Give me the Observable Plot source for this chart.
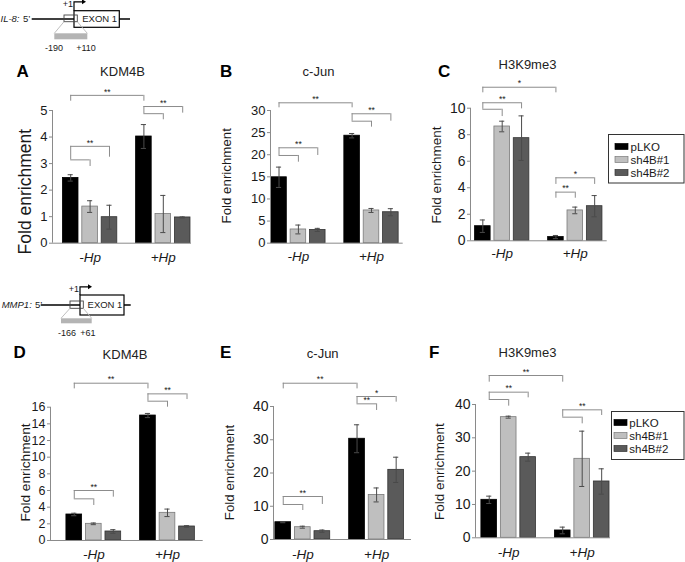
<!DOCTYPE html>
<html><head><meta charset="utf-8">
<script src="https://cdn.jsdelivr.net/npm/d3@7"></script>
<script src="https://cdn.jsdelivr.net/npm/@observablehq/plot@0.6"></script>
<style>
body{margin:0;background:#fff;}
#fig{position:relative;width:685px;height:562px;overflow:hidden;background:#fff;}
</style></head><body><div id="fig"></div><script>
// ---------- data ----------
const groups = ["-Hp", "+Hp"];
const series = ["pLKO", "sh4B#1", "sh4B#2"];
const titles = {A: "KDM4B", B: "c-Jun", C: "H3K9me3", D: "KDM4B", E: "c-Jun", F: "H3K9me3"};
const yLabel = "Fold enrichment";
const yTickMax = {A: 5, B: 30, C: 10, D: 16, E: 40, F: 40};
const yTickStep = {A: 1, B: 5, C: 2, D: 2, E: 10, F: 10};

// order: -Hp (pLKO, sh4B#1, sh4B#2), +Hp (pLKO, sh4B#1, sh4B#2)
const valuesA = [2.46, 1.38, 0.98, 4.02, 1.10, 0.97];
const errorsA = [0.12, 0.22, 0.45, 0.45, 0.70, 0.02];
const valuesB = [14.9, 3.1, 3.0, 24.3, 7.4, 7.0];
const errorsB = [2.3, 1.0, 0.35, 0.5, 0.45, 0.8];
const valuesC = [1.1, 8.62, 7.74, 0.28, 2.29, 2.61];
const errorsC = [0.47, 0.4, 1.68, 0.12, 0.25, 0.8];
const valuesD = [3.12, 2.0, 1.08, 15.0, 3.32, 1.68];
const errorsD = [0.15, 0.1, 0.22, 0.25, 0.45, 0.1];
const valuesE = [5.2, 3.7, 2.5, 30.3, 13.4, 20.95];
const errorsE = [0.15, 0.3, 0.35, 4.2, 2.1, 3.8];
const valuesF = [11.4, 36.2, 24.2, 2.2, 23.7, 16.9];
const errorsF = [1.1, 0.3, 1.2, 1.0, 8.3, 3.8];

// significance brackets: [group1, series1, group2, series2, level, leftTickEnd, rightTickEnd, label]
const bracketsA = [
  ["-Hp","pLKO","+Hp","pLKO",5.57,5.35,5.35,"**"],
  ["+Hp","pLKO","+Hp","sh4B#2",5.15,4.88,4.90,"**"],
  ["+Hp","pLKO","+Hp","sh4B#1",4.88,4.88,4.65,""],
  ["-Hp","pLKO","-Hp","sh4B#2",3.65,3.14,3.24,"**"],
  ["-Hp","pLKO","-Hp","sh4B#1",3.14,3.14,2.89,""]
];
const bracketsB = [
  ["-Hp","pLKO","+Hp","pLKO",31.74,30.61,30.61,"**"],
  ["+Hp","pLKO","+Hp","sh4B#2",29.26,27.58,27.58,"**"],
  ["+Hp","pLKO","+Hp","sh4B#1",27.58,27.58,26.23,""],
  ["-Hp","pLKO","-Hp","sh4B#2",21.57,19.83,19.83,"**"],
  ["-Hp","pLKO","-Hp","sh4B#1",19.83,19.83,18.31,""]
];
const bracketsC = [
  ["-Hp","pLKO","+Hp","pLKO",11.58,11.16,11.16,"*"],
  ["-Hp","pLKO","-Hp","sh4B#2",10.41,9.92,9.95,"**"],
  ["-Hp","pLKO","-Hp","sh4B#1",9.92,9.92,9.37,""],
  ["+Hp","pLKO","+Hp","sh4B#2",4.75,4.25,4.25,"*"],
  ["+Hp","pLKO","+Hp","sh4B#1",3.67,3.21,3.21,"**"]
];
const bracketsD = [
  ["-Hp","pLKO","+Hp","pLKO",18.88,18.2,18.2,"**"],
  ["+Hp","pLKO","+Hp","sh4B#2",17.6,16.72,16.92,"**"],
  ["+Hp","pLKO","+Hp","sh4B#1",16.72,16.72,16.0,""],
  ["-Hp","pLKO","-Hp","sh4B#2",6.0,5.0,5.2,"**"],
  ["-Hp","pLKO","-Hp","sh4B#1",5.0,5.0,4.2,""]
];
const bracketsE = [
  ["-Hp","pLKO","+Hp","pLKO",47.0,45.3,45.3,"**"],
  ["+Hp","pLKO","+Hp","sh4B#2",43.0,40.8,41.3,"*"],
  ["+Hp","pLKO","+Hp","sh4B#1",40.8,40.8,38.8,"**"],
  ["-Hp","pLKO","-Hp","sh4B#2",12.93,10.53,10.53,"**"],
  ["-Hp","pLKO","-Hp","sh4B#1",10.53,10.53,8.72,""]
];
const bracketsF = [
  ["-Hp","pLKO","+Hp","pLKO",48.7,46.7,46.7,"**"],
  ["-Hp","pLKO","-Hp","sh4B#2",43.7,41.5,42.0,"**"],
  ["-Hp","pLKO","-Hp","sh4B#1",41.5,41.5,39.5,""],
  ["+Hp","pLKO","+Hp","sh4B#2",38.4,36.2,36.7,"**"],
  ["+Hp","pLKO","+Hp","sh4B#1",36.2,36.2,34.2,""]
];

// ---------- style / layout ----------
const FONT = "Arial, 'Liberation Sans', sans-serif";
const fills = ["#000000", "#bfbfbf", "#5a5a5a"];
const outlines = ["#000000", "#7a7a7a", "#333333"];
const AXIS = "#8a8a8a", BRK = "#8c8c8c", TXT = "#1a1a1a", ERR = "#4a4a4a";
const PITCH = 0.265, BW = 0.213, CAP = 0.035;

const layout = {
  A: {axisLeft: 51.7, axisRight: 190.7, c1: 89.3, c2: 162.5, y0: 242.7, yTop: 110, top: 70, bottom: 272, pad: 9.5, tickFs: 13},
  B: {axisLeft: 270, axisRight: 402.7, c1: 297.9, c2: 371, y0: 242.7, yTop: 110, top: 70, bottom: 272, pad: 8, tickFs: 13},
  C: {axisLeft: 470, axisRight: 606.7, c1: 501.7, c2: 574.8, y0: 240.3, yTop: 107.7, top: 70, bottom: 272, pad: 8, tickFs: 14},
  D: {axisLeft: 50, axisRight: 202.7, c1: 93.3, c2: 167, y0: 540, yTop: 406.7, top: 355, bottom: 562, pad: 8.5, tickFs: 12.5},
  E: {axisLeft: 272.7, axisRight: 410.7, c1: 302, c2: 375.8, y0: 539, yTop: 406, top: 355, bottom: 562, pad: 9.5, tickFs: 14},
  F: {axisLeft: 475, axisRight: 610, c1: 508.2, c2: 581.7, y0: 537.3, yTop: 404, top: 355, bottom: 562, pad: 10, tickFs: 14}
};

const fig = document.getElementById("fig");

function drawPanel(id, values, errors, brackets) {
  const L = layout[id];
  const tickMax = yTickMax[id], step = yTickStep[id];
  const xOf = (g, s) => groups.indexOf(g) + (series.indexOf(s) - 1) * PITCH;
  const rows = [];
  groups.forEach((g, gi) => series.forEach((s, si) =>
    rows.push({g, s, si, v: values[gi * 3 + si], e: errors[gi * 3 + si]})));
  const br = brackets.map(([g1, s1, g2, s2, y, yl, yr, label]) =>
    ({xa: xOf(g1, s1), xb: xOf(g2, s2), y, yl, yr, label}));
  const svgLeft = L.axisLeft - 32, svgRight = L.axisRight + 6;
  const k = (L.y0 - L.yTop) / tickMax;
  const u = L.c2 - L.c1;
  const xa = (L.axisLeft - L.c1) / u, xb = (L.axisRight - L.c1) / u;
  const cx = d => xOf(d.g, d.s);
  const chart = Plot.plot({
    width: svgRight - svgLeft,
    height: L.bottom - L.top,
    marginLeft: L.axisLeft - svgLeft,
    marginRight: svgRight - L.axisRight,
    marginTop: 0,
    marginBottom: L.bottom - L.y0,
    x: {type: "linear", domain: [xa, xb]},
    y: {type: "linear", domain: [0, (L.y0 - L.top) / k]},
    style: {background: "transparent", fontFamily: FONT, color: TXT, overflow: "visible"},
    marks: [
      Plot.rect(rows, {x1: d => cx(d) - BW / 2, x2: d => cx(d) + BW / 2, y1: 0, y2: "v",
        fill: d => fills[d.si], stroke: d => outlines[d.si], strokeWidth: 0.8}),
      Plot.ruleX(rows, {x: cx, y1: d => d.v - d.e, y2: d => d.v + d.e, stroke: ERR, strokeWidth: 1}),
      Plot.ruleY(rows, {y: d => d.v + d.e, x1: d => cx(d) - CAP, x2: d => cx(d) + CAP, stroke: ERR, strokeWidth: 1}),
      Plot.ruleY(rows, {y: d => d.v - d.e, x1: d => cx(d) - CAP, x2: d => cx(d) + CAP, stroke: ERR, strokeWidth: 1}),
      Plot.ruleY([0], {stroke: AXIS, strokeWidth: 1}),
      Plot.ruleX([xa], {y1: 0, y2: tickMax, stroke: AXIS, strokeWidth: 1}),
      Plot.axisY({ticks: d3.range(0, tickMax + 1e-9, step), tickFormat: d => String(d), tickSize: 3, tickPadding: 2,
        fontSize: L.tickFs, stroke: AXIS, fill: TXT, label: null}),
      Plot.axisX({ticks: [0, 1], tickFormat: i => groups[Math.round(i)], tickSize: 0, tickPadding: L.pad,
        fontSize: 13.5, fontStyle: "italic", fill: TXT, label: null}),
      Plot.ruleY(br, {y: "y", x1: "xa", x2: "xb", stroke: BRK, strokeWidth: 1}),
      Plot.ruleX(br.filter(d => d.yl < d.y), {x: "xa", y1: "yl", y2: "y", stroke: BRK, strokeWidth: 1}),
      Plot.ruleX(br, {x: "xb", y1: "yr", y2: "y", stroke: BRK, strokeWidth: 1}),
      Plot.text(br.filter(d => d.label), {x: d => (d.xa + d.xb) / 2, y: "y", text: "label",
        fontSize: 8.5, lineAnchor: "middle", dy: -3.5, fill: TXT})
    ]
  });
  d3.select(chart).selectAll('g[aria-label="x-axis tick label"] text').style("font-style", "italic");
  chart.style.position = "absolute";
  chart.style.left = svgLeft + "px";
  chart.style.top = L.top + "px";
  chart.style.maxWidth = "none";
  fig.appendChild(chart);
}

drawPanel("A", valuesA, errorsA, bracketsA);
drawPanel("B", valuesB, errorsB, bracketsB);
drawPanel("C", valuesC, errorsC, bracketsC);
drawPanel("D", valuesD, errorsD, bracketsD);
drawPanel("E", valuesE, errorsE, bracketsE);
drawPanel("F", valuesF, errorsF, bracketsF);

// ---------- overlay: letters, titles, y labels, legends, gene schematics ----------
const ov = d3.select(fig).append("svg")
  .attr("width", 685).attr("height", 562)
  .style("position", "absolute").style("left", "0px").style("top", "0px")
  .style("font-family", FONT).style("overflow", "visible");

function text(x, y, s, size, opts = {}) {
  const t = ov.append("text").attr("x", x).attr("y", y).text(s)
    .attr("font-size", size).attr("fill", opts.fill || TXT)
    .attr("text-anchor", opts.anchor || "start");
  if (opts.bold) t.attr("font-weight", "bold");
  if (opts.italic) t.attr("font-style", "italic");
  return t;
}

const letterPos = {A: [16.5, 76.5], B: [220, 76.5], C: [438, 76.5], D: [13.5, 358], E: [220, 358], F: [429, 358]};
const titlePos = {A: [122.5, 75.5], B: [318.5, 76], C: [527.5, 68.5], D: [125, 359], E: [322.7, 358], F: [527.5, 356.5]};
const yLabelPos = {A: [25, 191.7, 17.5], B: [226.7, 175.8, 13.3], C: [436, 175, 13.5],
                   D: [25, 472.5, 13.7], E: [229, 472.5, 13.3], F: [439, 471.7, 13.5]};
for (const id of Object.keys(titles)) {
  text(letterPos[id][0], letterPos[id][1], id, 17, {bold: true, fill: "#000"});
  text(titlePos[id][0], titlePos[id][1], titles[id], 13, {anchor: "middle", fill: "#222"});
  const [lx, ly, fs] = yLabelPos[id];
  ov.append("text").attr("transform", `translate(${lx + 0.36 * fs},${ly}) rotate(-90)`)
    .attr("text-anchor", "middle").attr("font-size", fs).attr("fill", TXT).text(yLabel);
}

// legends
function legend(x0, y0, w, h, firstCenter, gap, swX, txtX) {
  ov.append("rect").attr("x", x0).attr("y", y0).attr("width", w).attr("height", h)
    .attr("fill", "#fff").attr("stroke", "#333").attr("stroke-width", 1);
  series.forEach((s, i) => {
    const c = firstCenter + i * gap;
    ov.append("rect").attr("x", swX).attr("y", c - 3).attr("width", 13).attr("height", 6)
      .attr("fill", fills[i]).attr("stroke", outlines[i]).attr("stroke-width", 0.7);
    text(txtX, c + 4.2, s, 11.5);
  });
}
legend(608.5, 134.5, 75.5, 48.5, 146.5, 13, 615, 630.5);
legend(611.5, 411.5, 72.5, 48, 422.5, 13, 614, 629.3);

// gene schematics
function schematic(o) {
  const g = ov.append("g");
  text(o.labelX, o.textY, o.gene + ":", 9.5, {italic: true});
  text(o.fiveX, o.textY, "5\u2019", 9.5);
  g.append("line").attr("x1", o.lineX1).attr("x2", o.lineX2).attr("y1", o.lineY).attr("y2", o.lineY)
    .attr("stroke", "#000").attr("stroke-width", 1.3);
  g.append("rect").attr("x", o.exX1).attr("y", o.exY1).attr("width", o.exX2 - o.exX1).attr("height", o.exY2 - o.exY1)
    .attr("fill", "#fff").attr("stroke", "#000").attr("stroke-width", 1.2);
  text((o.exX1 + o.exX2) / 2 + 3, o.lineY + 3.3, "EXON 1", 9.5, {anchor: "middle"});
  g.append("rect").attr("x", o.bxX1).attr("y", o.bxY1).attr("width", o.bxX2 - o.bxX1).attr("height", o.bxY2 - o.bxY1)
    .attr("fill", "none").attr("stroke", "#444").attr("stroke-width", 0.9);
  g.append("path").attr("d", `M${o.exX1},${o.exY1} V${o.arY} H${o.exX1 + 9}`)
    .attr("fill", "none").attr("stroke", "#000").attr("stroke-width", 1.2);
  g.append("path").attr("d", `M${o.exX1 + 12},${o.arY} l-4,-2.5 v5 z`).attr("fill", "#000");
  text(o.exX1 - 1, o.arY + 5.5, "+1", 9, {anchor: "end"});
  g.append("path").attr("d", `M${o.bxX1},${o.bxY2} L${o.amX1},${o.amY1} M${o.bxX2},${o.bxY2} L${o.amX2},${o.amY1}`)
    .attr("stroke", "#b8b8b8").attr("stroke-width", 0.9).attr("fill", "none");
  g.append("rect").attr("x", o.amX1).attr("y", o.amY1).attr("width", o.amX2 - o.amX1).attr("height", o.amY2 - o.amY1)
    .attr("fill", "#b4b4b4");
  text(o.n1X, o.numY, o.n1, 9, {anchor: "middle"});
  text(o.n2X, o.numY, o.n2, 9, {anchor: "middle"});
}
schematic({gene: "IL-8", labelX: 0.5, fiveX: 23, textY: 22.3, lineX1: 31.7, lineX2: 130, lineY: 19,
  exX1: 74, exX2: 119.3, exY1: 10.7, exY2: 27.3, bxX1: 64, bxX2: 77.3, bxY1: 15, bxY2: 21.7,
  arY: 1.8, amX1: 54.3, amX2: 87.3, amY1: 33.3, amY2: 39.3, n1: "-190", n2: "+110", n1X: 54, n2X: 86, numY: 51});
schematic({gene: "MMP1", labelX: 1.7, fiveX: 35, textY: 308.3, lineX1: 40.7, lineX2: 130.7, lineY: 305,
  exX1: 80, exX2: 124, exY1: 295, exY2: 315, bxX1: 70, bxX2: 83.3, bxY1: 301, bxY2: 308.3,
  arY: 286.8, amX1: 61, amX2: 91.7, amY1: 318.3, amY2: 323.3, n1: "-166", n2: "+61", n1X: 67, n2X: 88, numY: 336});
</script></body></html>
